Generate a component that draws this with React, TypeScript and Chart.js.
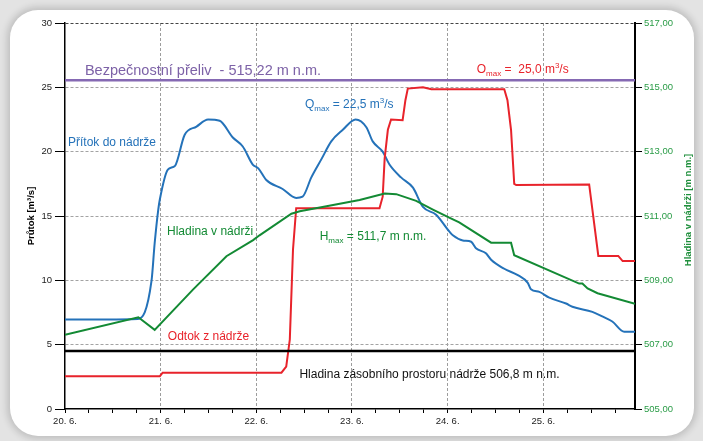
import React, { useEffect, useRef } from 'react';
import { Chart, registerables } from 'chart.js';

Chart.register(...registerables);

// ---- data ----
const dayLabels = ['20. 6.', '21. 6.', '22. 6.', '23. 6.', '24. 6.', '25. 6.'];

// hours since 20. 6. 0:00, inflow [m3/s]
const inflowHours = [0, 18.3, 21.7, 22.5, 23.4, 23.8, 25.8, 27.6, 30.0, 33.0, 35.9, 38.8, 42.1, 44.6, 47.1, 48.5, 50.5, 54.6, 58.0, 59.6, 61.8, 64.3, 66.8, 69.7, 72.9, 75.6, 77.2, 79.7, 81.4, 84.3, 87.3, 89.8, 93.1, 96.4, 97.3, 99.8, 101.9, 103.1, 105.6, 106.9, 110.2, 113.6, 116.1, 116.9, 119.0, 121.5, 125.7, 127.3, 132.3, 134.8, 137.3, 140.3, 143];
const inflowValues = [6.95, 7.0, 9.95, 12.9, 15.5, 16.3, 18.6, 18.9, 21.3, 21.95, 22.5, 22.4, 21.1, 20.4, 19.0, 18.7, 17.8, 17.1, 16.4, 16.5, 18.0, 19.4, 20.8, 21.7, 22.5, 21.9, 20.8, 20.0, 19.0, 18.0, 17.2, 15.7, 15.1, 13.8, 13.5, 13.1, 13.0, 12.5, 12.1, 11.6, 10.9, 10.4, 9.8, 9.3, 9.1, 8.65, 8.2, 7.95, 7.55, 7.2, 6.8, 6.0, 6.0];

// outflow [m3/s]
const outflowHours = [0, 23.8, 24.5, 54.3, 55.5, 56.4, 57.2, 58.0, 78.9, 79.7, 80.2, 81.0, 81.8, 84.7, 85.4, 86.0, 89.8, 91.9, 110.2, 111.0, 111.9, 112.7, 113.2, 131.5, 133.8, 138.8, 139.9, 143];
const outflowValues = [2.55, 2.55, 2.82, 2.82, 3.3, 5.4, 12.4, 15.6, 15.6, 16.5, 19.5, 21.7, 22.5, 22.45, 24.0, 24.9, 25.0, 24.85, 24.85, 24.0, 21.7, 17.5, 17.4, 17.45, 11.9, 11.9, 11.5, 11.5];

// water level [m n.m.]
const levelHours = [0, 18.4, 22.5, 32.1, 40.5, 47.2, 48.8, 56.8, 58.9, 65.6, 73.9, 80.2, 83.1, 88.1, 92.3, 96.4, 98.9, 106.9, 111.9, 112.7, 129.0, 129.8, 131.1, 133.6, 143];
const levelValues = [507.31, 507.85, 507.46, 508.71, 509.75, 510.25, 510.4, 511.07, 511.15, 511.3, 511.5, 511.7, 511.68, 511.47, 511.2, 510.95, 510.8, 510.17, 510.17, 509.78, 508.9, 508.9, 508.75, 508.6, 508.27];

const spillwayLevel = 515.22;
const storageLevel = 506.8;
const hoursRange = [0, 143];
const flowRange = [0, 30];
const levelRange = [505, 517];

const BLUE = '#2472b9';
const RED = '#e8232b';
const GREEN = '#138a34';
const PURPLE = '#8569b3';
const TICK_FONT = "'Liberation Sans Narrow', 'Liberation Sans', Arial, sans-serif";
const TEXT_FONT = "'Liberation Sans', Arial, sans-serif";

type Part = { t: string; size: number; dy?: number };

function drawRich(ctx: CanvasRenderingContext2D, x: number, y: number, parts: Part[], color: string) {
  ctx.save();
  ctx.fillStyle = color;
  ctx.textAlign = 'left';
  ctx.textBaseline = 'alphabetic';
  let cx = x;
  for (const p of parts) {
    ctx.font = `${p.size}px ${TEXT_FONT}`;
    ctx.fillText(p.t, cx, y + (p.dy || 0));
    cx += ctx.measureText(p.t).width;
  }
  ctx.restore();
}

const annotationPlugin = {
  id: 'annots',
  afterDatasetsDraw(chart: any) {
    const ctx: CanvasRenderingContext2D = chart.ctx;
    const xs = chart.scales.x;
    const ys = chart.scales.y;
    const X = (h: number) => xs.getPixelForValue(h);
    const Y = (v: number) => ys.getPixelForValue(v);
    drawRich(ctx, X(5.0), Y(25.96), [{ t: 'Bezpečnostní přeliv  - 515,22 m n.m.', size: 14.5 }], '#7d62a7');
    drawRich(ctx, X(0.75), Y(20.44), [{ t: 'Přítok do nádrže', size: 12 }], BLUE);
    drawRich(ctx, X(60.2), Y(23.39), [
      { t: 'Q', size: 12 }, { t: 'max', size: 8, dy: 3 }, { t: ' = 22,5 m', size: 12 }, { t: '3', size: 8, dy: -5 }, { t: '/s', size: 12 },
    ], BLUE);
    drawRich(ctx, X(103.3), Y(26.11), [
      { t: 'O', size: 12 }, { t: 'max', size: 8, dy: 3 }, { t: ' =  25,0 m', size: 12 }, { t: '3', size: 8, dy: -5 }, { t: '/s', size: 12 },
    ], RED);
    drawRich(ctx, X(25.6), Y(13.52), [{ t: 'Hladina v nádrži', size: 12 }], GREEN);
    drawRich(ctx, X(63.9), Y(13.13), [
      { t: 'H', size: 12 }, { t: 'max', size: 8, dy: 3 }, { t: ' = 511,7 m n.m.', size: 12 },
    ], GREEN);
    drawRich(ctx, X(25.8), Y(5.36), [{ t: 'Odtok z nádrže', size: 12 }], RED);
    drawRich(ctx, X(58.8), Y(2.41), [{ t: 'Hladina zásobního prostoru nádrže 506,8 m n.m.', size: 12 }], '#111');

    // axis titles
    const area = chart.chartArea;
    const cy = (area.top + area.bottom) / 2;
    ctx.save();
    ctx.font = `bold 9.5px ${TEXT_FONT}`;
    ctx.textAlign = 'center';
    ctx.textBaseline = 'middle';
    ctx.fillStyle = '#000';
    ctx.translate(31, cy);
    ctx.rotate(-Math.PI / 2);
    ctx.fillText('Průtok [m³/s]', 0, 0);
    ctx.restore();
    ctx.save();
    ctx.font = `bold 9.5px ${TEXT_FONT}`;
    ctx.textAlign = 'center';
    ctx.textBaseline = 'middle';
    ctx.fillStyle = '#1f8f3c';
    ctx.translate(688, cy - 6);
    ctx.rotate(-Math.PI / 2);
    ctx.fillText('Hladina v nádrži [m n.m.]', 0, 0);
    ctx.restore();
  },
};

const toPoints = (xs: number[], ys: number[]) => xs.map((x, i) => ({ x, y: ys[i] }));

export default function App() {
  const ref = useRef<HTMLCanvasElement | null>(null);
  useEffect(() => {
    if (!ref.current) return;
    const chart = new Chart(ref.current, {
      type: 'line',
      data: {
        datasets: [
          {
            data: toPoints(hoursRange, [spillwayLevel, spillwayLevel]),
            yAxisID: 'y1', borderColor: PURPLE, borderWidth: 2.5, pointRadius: 0,
          },
          {
            data: toPoints(hoursRange, [storageLevel, storageLevel]),
            yAxisID: 'y1', borderColor: '#000', borderWidth: 2.5, pointRadius: 0,
          },
          {
            data: toPoints(levelHours, levelValues),
            yAxisID: 'y1', borderColor: GREEN, borderWidth: 2, pointRadius: 0, tension: 0,
          },
          {
            data: toPoints(outflowHours, outflowValues),
            yAxisID: 'y', borderColor: RED, borderWidth: 2, pointRadius: 0, tension: 0,
          },
          {
            data: toPoints(inflowHours, inflowValues),
            yAxisID: 'y', borderColor: BLUE, borderWidth: 2, pointRadius: 0, cubicInterpolationMode: 'monotone',
          },
        ] as any,
      },
      options: {
        animation: false,
        responsive: false,
        devicePixelRatio: 1,
        layout: { padding: { left: 0, right: 0, top: 23, bottom: 0 } },
        plugins: { legend: { display: false }, tooltip: { enabled: false } },
        elements: { point: { radius: 0 } },
        scales: {
          x: {
            type: 'linear',
            min: hoursRange[0],
            max: hoursRange[1],
            afterFit: (s: any) => { s.height = 32; },
            ticks: {
              stepSize: 6,
              autoSkip: false,
              maxRotation: 0,
              includeBounds: false,
              padding: 3,
              color: '#222',
              font: { family: TICK_FONT, size: 9.5 },
              callback: (v: any) => (Number(v) % 24 === 0 ? dayLabels[Number(v) / 24] : ''),
            },
            grid: {
              color: (c: any) => (c.tick && c.tick.value % 24 === 0 && c.tick.value > 0 ? '#9d9d9d' : 'rgba(0,0,0,0)'),
              tickColor: '#000',
              tickLength: 4,
              lineWidth: 1,
            },
            border: { display: true, color: '#000', width: 1.5, dash: [3, 2] },
          },
          y: {
            type: 'linear',
            position: 'left',
            min: flowRange[0],
            max: flowRange[1],
            afterFit: (s: any) => { s.width = 65; },
            ticks: { stepSize: 5, padding: 3, color: '#222', font: { family: TICK_FONT, size: 9.5 } },
            grid: {
              color: (c: any) => (c.tick && c.tick.value === 30 ? '#444' : c.tick && c.tick.value === 0 ? 'rgba(0,0,0,0)' : '#a3a3a3'),
              tickColor: '#000',
              tickLength: 10,
              lineWidth: 1,
            },
            border: { display: true, color: '#000', width: 1.5, dash: [3, 2] },
          },
          y1: {
            type: 'linear',
            position: 'right',
            min: levelRange[0],
            max: levelRange[1],
            afterFit: (s: any) => { s.width = 68; },
            ticks: {
              stepSize: 2,
              padding: 2,
              color: '#2a9c47',
              font: { family: TICK_FONT, size: 9.5 },
              callback: (v: any) => Number(v).toFixed(2).replace('.', ','),
            },
            grid: { drawOnChartArea: false, tickColor: '#000', tickLength: 7 },
            border: { display: true, color: '#000', width: 2 },
          },
        },
      } as any,
      plugins: [annotationPlugin],
    });
    return () => chart.destroy();
  }, []);

  return (
    <div style={{ position: 'fixed', left: 0, top: 0, width: 703, height: 441, overflow: 'hidden', background: '#e3e3e3' }}>
      <div
        style={{
          position: 'absolute', left: 10, top: 10, width: 684, height: 426,
          borderRadius: 28, background: '#fff', boxShadow: '0 0 7px 3px rgba(0,0,0,0.16)',
        }}
      />
      <canvas ref={ref} width={703} height={441} style={{ position: 'absolute', left: 0, top: 0, width: 703, height: 441 }} />
    </div>
  );
}
